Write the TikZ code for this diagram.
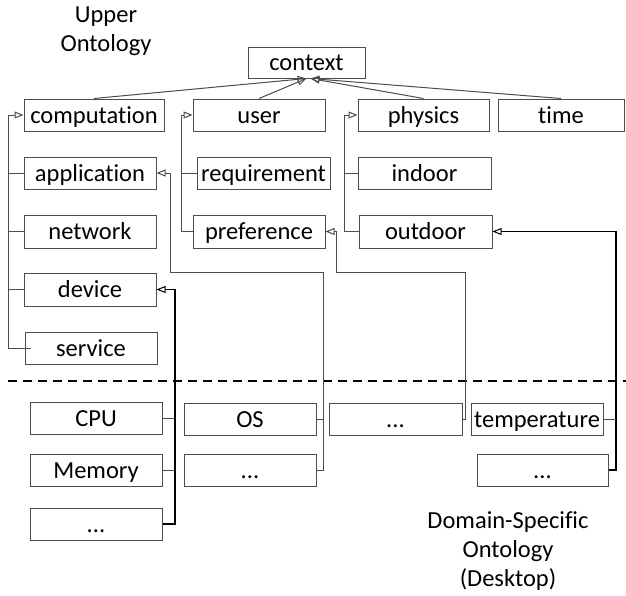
\documentclass[tikz,border=0pt]{standalone}
\usepackage{fontspec}
\setmainfont[Ligatures=NoCommon]{Carlito}
\usetikzlibrary{arrows.meta,calc}
\begin{document}
\begin{tikzpicture}[x=1pt,y=-1pt,
  box/.style={draw=black!70, line width=1pt, inner sep=0pt, minimum height=32pt, text height=18pt, text depth=1.5pt, font=\fontsize{24.5}{28}\selectfont},
  thin/.style={draw=black!70, line width=1pt},
  bold/.style={draw=black, line width=1.8pt},
  arr/.style={-{Triangle[open,length=9pt,width=7pt,line width=1pt]}},
  lbl/.style={align=center, inner sep=0pt, font=\fontsize{24.5}{29}\selectfont}]
\useasboundingbox (0,0) rectangle (626,595);

% labels
\node[lbl, anchor=north] (up) at (106,7) {Upper\\Ontology};
\node[lbl, anchor=north] (ds) at (508,511) {Domain-Specific\\Ontology\\(Desktop)};

% upper boxes
\node[box, minimum width=117pt, minimum height=31pt] (context) at (306.5,62.5) {context};
\node[box, minimum width=140pt] (computation) at (94,115) {computation};
\node[box, minimum width=132pt] (user) at (259,115) {user};
\node[box, minimum width=131pt] (physics) at (423.5,115) {physics};
\node[box, minimum width=126pt] (time) at (561,115) {time};
\node[box, minimum width=132pt] (application) at (90,173) {application};
\node[box, minimum width=133pt] (requirement) at (263.5,173) {requirement};
\node[box, minimum width=133pt] (indoor) at (424.5,173) {indoor};
\node[box, minimum width=132pt, minimum height=33pt] (network) at (90,231.5) {network};
\node[box, minimum width=132pt, minimum height=33pt] (preference) at (259,231.5) {preference};
\node[box, minimum width=133pt, minimum height=33pt] (outdoor) at (425.5,231.5) {outdoor};
\node[box, minimum width=132pt, minimum height=33pt] (device) at (90,289.5) {device};
\node[box, minimum width=132pt] (service) at (91,348) {service};

% lower boxes
\node[box, minimum width=132pt] (cpu) at (96,418) {CPU};
\node[box, minimum width=132pt] (memory) at (96,470) {Memory};
\node[box, minimum width=132pt] (dotsA) at (96,524) {...};
\node[box, minimum width=132pt] (os) at (250,419) {OS};
\node[box, minimum width=132pt] (dotsB) at (250,470) {...};
\node[box, minimum width=133pt] (dotsC) at (395.5,419) {...};
\node[box, minimum width=132pt] (temperature) at (537,419) {temperature};
\node[box, minimum width=131pt] (dotsD) at (542.5,470) {...};

% separator
\coordinate (sepL) at (8,381);
\coordinate (sepR) at (626,381);
\draw[black, line width=1.2pt, dash pattern=on 9pt off 6pt] (sepL) -- (sepR);

% trunk coordinates
\coordinate (tA) at (8,0);
\coordinate (tB) at (181,0);
\coordinate (tC) at (344,0);
\coordinate (tD) at (323,272);
\coordinate (tE) at (170,272);
\coordinate (tF) at (175,0);
\coordinate (tG) at (465,272);
\coordinate (tH) at (336,272);
\coordinate (tI) at (616,0);
\coordinate (ctxL) at ($(context.south)+(0,0)$);
\coordinate (ctxR) at ($(context.south)+(4,0)$);

% to context
\draw[thin, arr] (computation.north) -- (ctxL);
\draw[thin, arr] (user.north) -- (ctxL);
\draw[thin, arr] (physics.north) -- (ctxR);
\draw[thin, arr] (time.north) -- (ctxR);

% computation group
\draw[thin, arr] ([xshift=6pt]service.west) -| (tA |- computation.west) -- (computation.west);
\draw[thin] (application.west) -- (tA |- application.west);
\draw[thin] (network.west) -- (tA |- network.west);
\draw[thin] (device.west) -- (tA |- device.west);

% user group
\draw[thin, arr] (preference.west) -| (tB |- user.west) -- (user.west);
\draw[thin] (requirement.west) -- (tB |- requirement.west);

% physics group
\draw[thin, arr] (outdoor.west) -| (tC |- physics.west) -- (physics.west);
\draw[thin] (indoor.west) -- (tC |- indoor.west);

% OS -> application
\draw[thin, arr] (dotsB.east) -| (tD) -| (tE |- application.east) -- (application.east);
\draw[thin] (os.east) -- (tD |- os.east);

% CPU etc -> device
\draw[bold, arr] (dotsA.east) -| (tF |- device.east) -- (device.east);
\draw[thin] (cpu.east) -- (tF |- cpu.east);
\draw[thin] (memory.east) -- (tF |- memory.east);

% dotsC -> preference
\draw[thin, arr] (dotsC.east) -| (tG) -| (tH |- preference.east) -- (preference.east);

% temperature -> outdoor
\draw[bold, arr] (dotsD.east) -| (tI |- outdoor.east) -- (outdoor.east);
\draw[thin] (temperature.east) -- (tI |- temperature.east);
\end{tikzpicture}
\end{document}
